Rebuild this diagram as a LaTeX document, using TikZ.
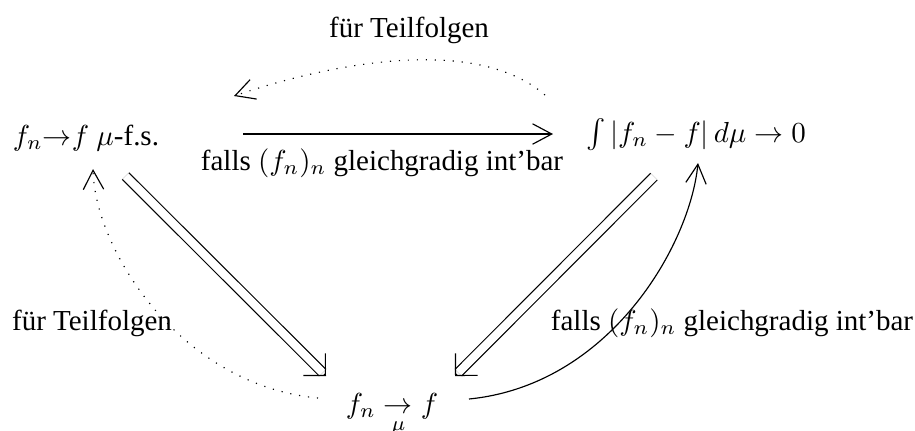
\documentclass[tikz,border=0pt]{standalone}
\usepackage{amsmath}
\usepackage[no-math]{fontspec}
\setmainfont{Liberation Serif}
\usetikzlibrary{arrows.meta}
\usetikzlibrary{calc}

\begin{document}
\begin{tikzpicture}[
    x=0.345pt, y=-0.345pt,
    entry/.style={inner sep=0pt, anchor=base},
    conv arrow/.style={-{Straight Barb[angle=56:7.5pt]}},
    dotted arrow/.style={conv arrow, dash pattern=on 0.4pt off 2.7pt},
    implies line/.style={double, double distance=2.8pt, shorten >=1.6pt},
    implies tip/.style={-{Straight Barb[angle=90:7.6pt]}}
]
    \useasboundingbox (0,0) rectangle (915,430);

    % Convergence modes
    \node[entry] (fs) at (86,145) {$f_n{\to}f$ $\mu$-f.s.};
    \node[entry] (lone) at (696,142) {$\int|f_n-f|\,d\mu\to0$};
    \node[entry] (meas) at (392,413) {$f_n\underset{\mu}{\to}f$};

    % Labels
    \node[entry] (lbltop) at (409,37) {für Teilfolgen};
    \node[entry] (lblmid) at (382,170) {falls $(f_n)_n$ gleichgradig int'bar};
    \node[entry] (lblleft) at (92,330) {für Teilfolgen};
    \node[entry] (lblright) at (732,330) {falls $(f_n)_n$ gleichgradig int'bar};

    % f.s. <-> L1
    \draw[conv arrow] ($(fs.base)+(157,-11)$) -- ($(lone.base)+(-143,-8)$);
    \draw[dotted arrow] ($(lone.base)+(-151,-47)$) .. controls (470,30) and (310,70) .. ($(fs.base)+(148,-49)$);

    % double arrows down to convergence in measure
    \draw[implies line] ($(fs.base)+(39.5,31)$) -- coordinate[pos=0.99] (fsm) ($(meas.base)+(-66,-37)$) coordinate (fsmtip);
    \draw[implies tip] (fsm) -- (fsmtip);
    \draw[implies line] ($(lone.base)+(-42,34.5)$) -- coordinate[pos=0.99] (lm) ($(meas.base)+(63,-37)$) coordinate (lmtip);
    \draw[implies tip] (lm) -- (lmtip);

    % back up again
    \draw[dotted arrow] ($(meas.base)+(-74,-15)$) .. controls (180,385) and (95,250) .. ($(fs.base)+(7,24)$);
    \draw[conv arrow] ($(meas.base)+(77,-14)$) .. controls (610,385) and (690,245) .. ($(lone.base)+(2,21)$);

\end{tikzpicture}
\end{document}
